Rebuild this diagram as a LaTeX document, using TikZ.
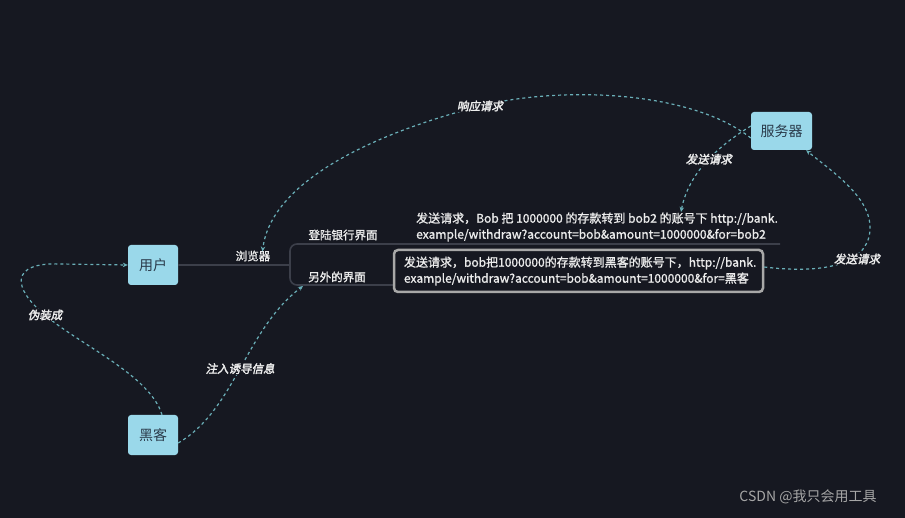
\documentclass[tikz,border=0pt]{standalone}
\usepackage{fontspec}
\setmainfont{Noto Sans CJK SC}
\newfontfamily\lblfont[FakeSlant=0.2,FakeBold=2.5]{Noto Sans CJK SC}
\newfontfamily\midfont[FakeBold=1.2]{Noto Sans CJK SC}
\usetikzlibrary{arrows.meta}
\definecolor{bg}{HTML}{161821}
\definecolor{nodefill}{HTML}{9AD8EA}
\definecolor{nodetext}{HTML}{2A3A4A}
\definecolor{dashc}{HTML}{6AAFB8}
\definecolor{brk}{HTML}{3C3F4A}
\definecolor{txtc}{HTML}{ECECEC}
\definecolor{boxc}{HTML}{A8A8A8}
\tikzset{
  box/.style={fill=nodefill, rounded corners=3pt, minimum width=50pt, minimum height=40pt,
    inner sep=0pt, text=nodetext, font=\fontsize{14}{16}\selectfont},
  conn/.style={draw=dashc, line width=1.2pt, dash pattern=on 3pt off 3pt,
    -{Stealth[length=5pt,width=4.5pt]}},
  elabel/.style={fill=bg, inner sep=1pt, text=txtc, font=\lblfont\fontsize{11.5}{13}\selectfont},
  plabel/.style={inner sep=0pt, text=txtc, font=\midfont\fontsize{11.5}{13}\selectfont},
  bodytext/.style={inner sep=0pt, text=txtc, align=left, font=\midfont\fontsize{12}{16}\selectfont},
  brkline/.style={draw=brk, line width=1.6pt},
}
\begin{document}
\begin{tikzpicture}[x=1pt,y=-1pt]
\path[fill=bg] (0,0) rectangle (905,518);
\useasboundingbox (0,0) rectangle (905,518);

% nodes
\node[box] (user) at (153,265) {用户};
\node[box] (hacker) at (153,435) {黑客};
\node[box, minimum width=61pt, minimum height=38pt] (server) at (781.5,131) {服务器};

\node[plabel] (browser) at (253,256) {浏览器};
\node[plabel] (login) at (343,235) {登陆银行界面};
\node[plabel] (other) at (337,277) {另外的界面};

% bracket
\coordinate (fork) at (290,265);
\coordinate (topend) at (780,244);
\draw[brkline] (user.east) -- (fork);
\draw[brkline, rounded corners=7pt] (topend) -- (290,244) -- (290,285) -- (394,285);

\node[bodytext, anchor=west] (text1) at (416,227)
  {发送请求，Bob 把 1000000 的存款转到 bob2 的账号下 http://bank.\\example/withdraw?account=bob\&amount=1000000\&for=bob2};

\node[draw=boxc, line width=2.5pt, rounded corners=4pt, minimum width=369pt, minimum height=42pt,
  inner xsep=10pt, inner ysep=0pt, text width=349pt, align=left, text=txtc,
  font=\midfont\fontsize{12}{16}\selectfont] (box2) at (578.5,271)
  {发送请求，bob把1000000的存款转到黑客的账号下，http://bank.\\example/withdraw?account=bob\&amount=1000000\&for=黑客};

\coordinate (t1in) at (681,212);
\coordinate (otherin) at (303,286);

% connectors
\draw[conn] ([yshift=-7pt]server.west) .. controls (690,90) and (560,86) .. (480,106)
  node[elabel] {响应请求}
  .. controls (350,140) and (270,190) .. ([xshift=-8pt,yshift=-1pt]browser.north east);

\draw[conn] ([yshift=5pt]server.west) .. controls (715,148) and (688,175) .. (t1in)
  node[elabel, pos=0.45] {发送请求};

\draw[conn] ([yshift=4pt]box2.east) .. controls (830,275) and (872,262) .. (870,225)
  .. controls (868,195) and (830,170) .. ([xshift=-6pt]server.south east);
\node[elabel] (lbl3) at (857,259) {发送请求};

\draw[conn] ([xshift=9pt]hacker.north) .. controls (150,375) and (80,345) .. (45,315)
  node[elabel] {伪装成}
  .. controls (12,288) and (10,262) .. (60,264) -- (user.west);

\draw[conn] ([yshift=-8pt]hacker.east) .. controls (235,410) and (245,330) .. (otherin)
  node[elabel, pos=0.5] {注入诱导信息};

\node[text=gray!70, font=\fontsize{14}{16}\selectfont, inner sep=0pt] (sig) at (808,497) {CSDN @我只会用工具};
\end{tikzpicture}
\end{document}
